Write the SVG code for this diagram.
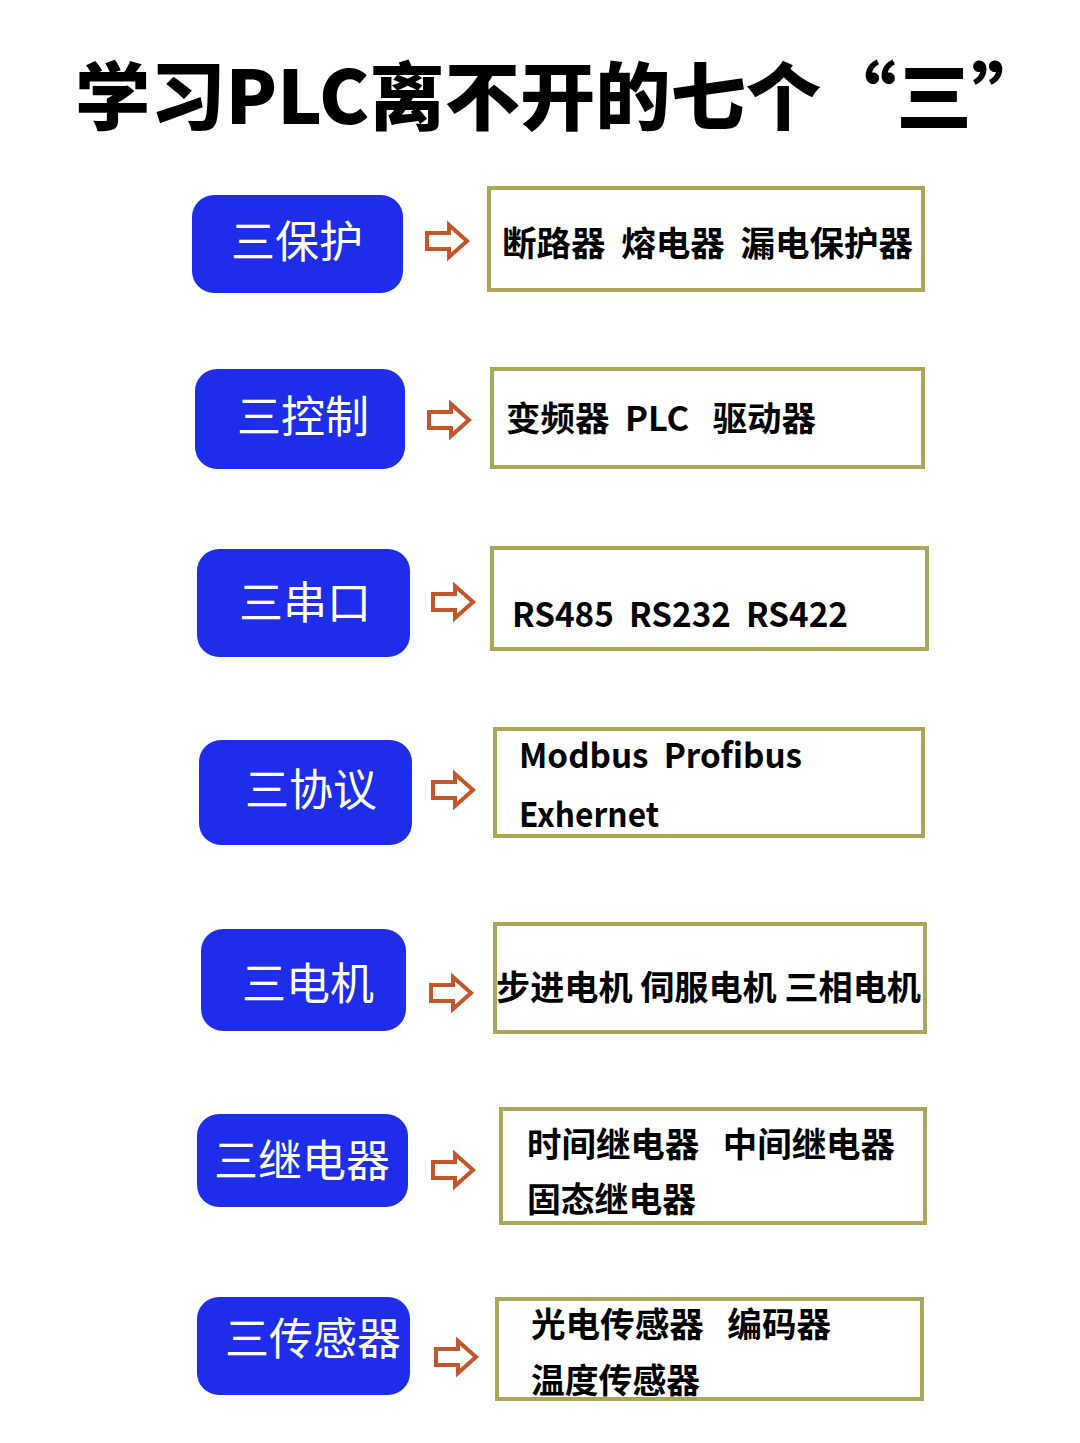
<svg xmlns="http://www.w3.org/2000/svg" xmlns:xlink="http://www.w3.org/1999/xlink" width="1080" height="1443" viewBox="0 0 1080 1443">
<style>
.btn{fill:#1e2de9}
.btxt{fill:#ffffff;font-family:"Noto Sans CJK SC","Noto Sans",sans-serif;font-size:44px;font-weight:400;text-anchor:middle}
.box{fill:#ffffff;stroke:#aaa75a;stroke-width:4}
.t{fill:#000000;font-family:"Noto Sans CJK SC","Noto Sans",sans-serif;font-size:34px;font-weight:700;white-space:pre}
.arr{fill:#ffffff;stroke:#c4562c;stroke-width:4;stroke-linejoin:miter}
.title{fill:#000000;font-family:"Noto Sans CJK SC","Noto Sans",sans-serif;font-size:74px;font-weight:900}
</style>
<defs>
<path id="a" d="M0,-8 L22,-8 L22,-16 L40,0 L22,16 L22,8 L0,8 Z"/>
</defs>
<rect width="1080" height="1443" fill="#ffffff"/>
<text class="title" x="75" y="124" textLength="972" lengthAdjust="spacingAndGlyphs">学习PLC离不开的七个“三”</text>

<g id="n1"><rect class="btn" x="192" y="195" width="211" height="98" rx="22"/><text class="btxt" x="297" y="258">三保护</text></g>
<g id="n2"><rect class="btn" x="195" y="369" width="210" height="100" rx="22"/><text class="btxt" x="303" y="433">三控制</text></g>
<g id="n3"><rect class="btn" x="197" y="549" width="213" height="108" rx="22"/><text class="btxt" x="305" y="619">三串口</text></g>
<g id="n4"><rect class="btn" x="199" y="740" width="213" height="105" rx="22"/><text class="btxt" x="311" y="806">三协议</text></g>
<g id="n5"><rect class="btn" x="201" y="929" width="205" height="102" rx="22"/><text class="btxt" x="308" y="1000">三电机</text></g>
<g id="n6"><rect class="btn" x="197" y="1114" width="211" height="93" rx="22"/><text class="btxt" x="302" y="1177">三继电器</text></g>
<g id="n7"><rect class="btn" x="197" y="1297" width="213" height="98" rx="22"/><text class="btxt" x="313" y="1355">三传感器</text></g>

<g id="b1"><rect class="box" x="489" y="188" width="434" height="102"/><text class="t" xml:space="preserve" x="502" y="256" textLength="411" lengthAdjust="spacingAndGlyphs">断路器  熔电器  漏电保护器</text></g>
<g id="b2"><rect class="box" x="492" y="369" width="431" height="98"/><text class="t" xml:space="preserve" x="506" y="431" textLength="310" lengthAdjust="spacingAndGlyphs">变频器  PLC   驱动器</text></g>
<g id="b3"><rect class="box" x="492" y="548" width="435" height="101"/><text class="t" xml:space="preserve" x="512" y="627" textLength="336" lengthAdjust="spacingAndGlyphs">RS485  RS232  RS422</text></g>
<g id="b4"><rect class="box" x="495" y="729" width="428" height="107"/><text class="t" xml:space="preserve" x="519" y="768" textLength="283" lengthAdjust="spacingAndGlyphs">Modbus  Profibus</text><text class="t" x="519" y="827" textLength="140" lengthAdjust="spacingAndGlyphs">Exhernet</text></g>
<g id="b5"><rect class="box" x="495" y="924" width="430" height="108"/><text class="t" x="496" y="1000" textLength="425" lengthAdjust="spacingAndGlyphs">步进电机 伺服电机 三相电机</text></g>
<g id="b6"><rect class="box" x="501" y="1109" width="424" height="114"/><text class="t" xml:space="preserve" x="527" y="1157" textLength="368" lengthAdjust="spacingAndGlyphs">时间继电器   中间继电器</text><text class="t" x="527" y="1212" textLength="169" lengthAdjust="spacingAndGlyphs">固态继电器</text></g>
<g id="b7"><rect class="box" x="497" y="1299" width="425" height="100"/><text class="t" xml:space="preserve" x="531" y="1337" textLength="300" lengthAdjust="spacingAndGlyphs">光电传感器   编码器</text><text class="t" x="531" y="1393" textLength="169" lengthAdjust="spacingAndGlyphs">温度传感器</text></g>

<g id="connectors">
<use class="arr" xlink:href="#a" transform="translate(427,241)"/>
<use class="arr" xlink:href="#a" transform="translate(429,420)"/>
<use class="arr" xlink:href="#a" transform="translate(433,602)"/>
<use class="arr" xlink:href="#a" transform="translate(433,790)"/>
<use class="arr" xlink:href="#a" transform="translate(431,993)"/>
<use class="arr" xlink:href="#a" transform="translate(433,1170)"/>
<use class="arr" xlink:href="#a" transform="translate(436,1357)"/>
</g>
</svg>
